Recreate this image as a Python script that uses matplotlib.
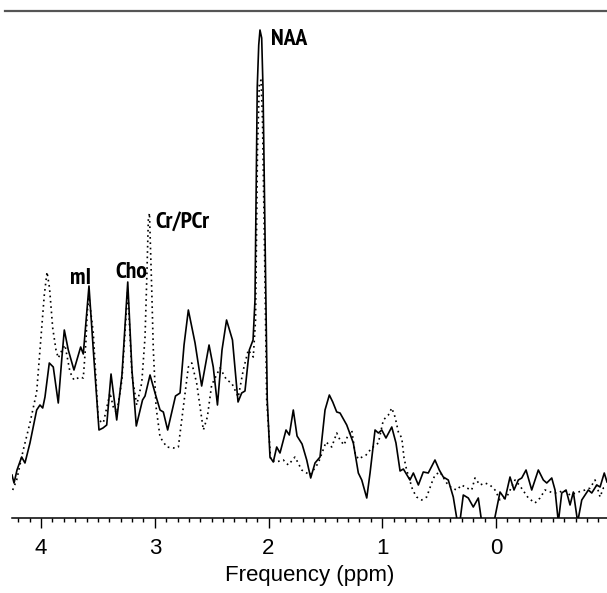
import matplotlib
matplotlib.use("Agg")
import matplotlib.pyplot as plt
from matplotlib import font_manager
from matplotlib.lines import Line2D
from matplotlib.ticker import MultipleLocator

# solid spectrum: chemical shift (ppm) and intensity (a.u.)
solid_ppm = [4.256, 4.238, 4.212, 4.171, 4.142, 4.098, 4.039, 4.010, 3.986, 3.966,
             3.928, 3.893, 3.849, 3.819, 3.796, 3.761, 3.711, 3.652, 3.629, 3.579,
             3.541, 3.491, 3.456, 3.423, 3.385, 3.335, 3.289, 3.238, 3.201, 3.163,
             3.108, 3.086, 3.042, 2.998, 2.954, 2.925, 2.887, 2.818, 2.778, 2.743,
             2.705, 2.646, 2.588, 2.523, 2.486, 2.449, 2.409, 2.369, 2.317, 2.268,
             2.236, 2.207, 2.169, 2.136, 2.119, 2.099, 2.086, 2.075, 2.060, 2.048,
             2.031, 2.011, 1.987, 1.958, 1.928, 1.899, 1.846, 1.817, 1.782, 1.749,
             1.705, 1.664, 1.629, 1.591, 1.547, 1.503, 1.465, 1.435, 1.400, 1.371,
             1.312, 1.254, 1.210, 1.180, 1.136, 1.107, 1.063, 1.034, 1.004, 0.967,
             0.916, 0.879, 0.843, 0.814, 0.756, 0.726, 0.682, 0.639, 0.595, 0.536,
             0.498, 0.463, 0.419, 0.375, 0.339, 0.316, 0.287, 0.243, 0.199, 0.155,
             0.125, 0.069, 0.017, -0.036, -0.080, -0.124, -0.159, -0.197, -0.227, -0.265,
             -0.315, -0.373, -0.417, -0.447, -0.491, -0.520, -0.549, -0.579, -0.617, -0.652,
             -0.681, -0.719, -0.755, -0.813, -0.843, -0.887, -0.916, -0.953, -0.977]
solid_int = [8.5, 6.9, 9.5, 12.1, 10.9, 14.9, 21.5, 22.5, 21.9, 24.1,
             30.9, 30.1, 22.9, 31.5, 37.5, 33.5, 29.5, 34.1, 32.7, 46.3,
             33.5, 17.5, 17.9, 18.5, 28.7, 19.5, 28.5, 47.1, 29.5, 18.3,
             23.5, 24.3, 28.5, 24.9, 21.5, 21.1, 17.5, 24.3, 24.9, 34.5,
             41.5, 34.9, 26.3, 34.5, 30.1, 22.5, 33.5, 39.5, 35.5, 23.1,
             24.9, 25.3, 33.5, 35.5, 43.5, 86.1, 94.5, 97.5, 95.9, 85.5,
             56.9, 23.5, 12.1, 11.1, 14.1, 12.9, 17.5, 16.5, 21.5, 16.3,
             14.7, 11.5, 7.9, 10.9, 12.1, 21.5, 24.5, 23.1, 21.1, 20.9,
             18.5, 14.9, 8.9, 7.5, 3.9, 8.9, 17.5, 16.9, 17.5, 15.9,
             18.1, 14.9, 9.3, 9.7, 7.5, 8.9, 6.5, 9.1, 8.9, 11.5,
             9.5, 8.1, 7.5, 4.1, -0.9, -0.7, 4.5, 3.9, 2.1, 3.9,
             -0.9, -1.7, -0.9, 5.1, 3.7, 8.1, 5.5, 7.5, 7.9, 9.5,
             5.5, 9.5, 7.5, 6.9, 7.9, 5.5, -0.9, 4.9, 5.5, 2.5,
             5.1, -0.9, 3.5, 5.5, 4.9, 6.5, 6.1, 8.9, 7.1]

# dotted spectrum
dot_ppm = [4.250, 4.215, 4.157, 4.098, 4.039, 4.010, 3.972, 3.948, 3.926, 3.898,
           3.869, 3.849, 3.816, 3.790, 3.746, 3.711, 3.658, 3.629, 3.605, 3.594,
           3.579, 3.541, 3.497, 3.453, 3.394, 3.365, 3.335, 3.289, 3.238, 3.201,
           3.159, 3.115, 3.086, 3.071, 3.057, 3.047, 3.027, 3.013, 2.989, 2.954,
           2.895, 2.837, 2.793, 2.749, 2.705, 2.675, 2.632, 2.602, 2.573, 2.538,
           2.500, 2.427, 2.368, 2.324, 2.266, 2.222, 2.178, 2.134, 2.114, 2.097,
           2.081, 2.066, 2.053, 2.035, 2.016, 1.981, 1.934, 1.870, 1.826, 1.767,
           1.708, 1.635, 1.562, 1.494, 1.444, 1.400, 1.371, 1.336, 1.307, 1.268,
           1.239, 1.210, 1.142, 1.092, 1.034, 0.990, 0.946, 0.916, 0.887, 0.858,
           0.828, 0.808, 0.785, 0.732, 0.697, 0.653, 0.609, 0.565, 0.536, 0.492,
           0.433, 0.389, 0.345, 0.301, 0.257, 0.213, 0.184, 0.140, 0.096, 0.052,
           0.008, -0.036, -0.095, -0.168, -0.212, -0.285, -0.344, -0.388, -0.432, -0.505,
           -0.549, -0.593, -0.652, -0.725, -0.784, -0.828, -0.872, -0.916, -0.945, -0.977]
dot_int = [5.5, 7.5, 13.5, 18.9, 25.1, 33.5, 44.5, 49.1, 45.9, 37.9,
           33.5, 31.9, 33.5, 34.5, 29.1, 27.5, 28.1, 27.9, 35.5, 41.1,
           44.1, 36.9, 19.5, 18.9, 24.9, 22.1, 20.9, 27.5, 45.5, 28.5,
           22.5, 26.9, 36.1, 47.5, 59.5, 60.9, 45.5, 33.5, 22.1, 16.1,
           14.1, 13.9, 14.1, 22.1, 30.1, 30.9, 26.9, 22.1, 17.5, 20.1,
           26.5, 29.9, 27.5, 26.9, 24.1, 29.5, 33.5, 32.1, 39.5, 73.5,
           86.5, 87.5, 79.5, 53.5, 23.5, 11.5, 11.1, 11.5, 10.5, 12.1,
           9.5, 8.5, 10.9, 15.1, 14.1, 16.9, 15.5, 14.5, 16.1, 17.5,
           12.9, 11.7, 12.5, 13.9, 14.9, 19.5, 20.5, 21.9, 20.1, 17.1,
           15.9, 11.9, 9.5, 5.5, 4.1, 3.5, 4.1, 6.9, 8.5, 9.1,
           6.9, 5.9, 5.5, 6.5, 5.9, 5.5, 7.9, 6.5, 6.9, 6.5,
           5.5, 3.5, 4.1, 7.5, 6.3, 3.9, 2.9, 3.9, 5.5, 4.9,
           4.9, 5.5, 4.5, 5.1, 5.5, 5.9, 7.5, 4.1, 5.9, 6.1]

# metabolite labels: text, ppm of left edge, intensity of baseline
peak_names = ["NAA", "Cr/PCr", "Cho", "mI"]
peak_ppm = [1.981, 2.994, 3.350, 3.746]
peak_int = [94.5, 57.9, 47.9, 46.7]

# pick a narrow bold face for the peak labels if one is installed
narrow = None
for f in font_manager.fontManager.ttflist:
    if ("Narrow" in f.name or "Condensed" in f.name) and f.weight in (700, "bold"):
        narrow = f.fname
        if "Narrow" in f.name:
            break
label_font = dict(fname=narrow) if narrow else dict(family="DejaVu Sans", weight="bold")
label_prop = font_manager.FontProperties(size=17, **label_font)

fig = plt.figure(figsize=(6.07, 5.93), dpi=100)
ax = fig.add_axes([12 / 607, 75.5 / 593, 595 / 607, 507 / 593])

ax.plot(solid_ppm, solid_int, color="black", lw=1.2, solid_joinstyle="round")
ax.plot(dot_ppm, dot_int, color="black", lw=1.2, linestyle=(0, (1, 2.2)))

for name, px, py in zip(peak_names, peak_ppm, peak_int):
    ax.text(px, py, name, fontproperties=label_prop, ha="left", va="baseline")

ax.set_xlim(4.256, -0.977)
ax.set_ylim(0, 101.4)

for s in ["left", "right", "top"]:
    ax.spines[s].set_visible(False)
ax.spines["bottom"].set_linewidth(1.1)
ax.set_yticks([])
ax.xaxis.set_major_locator(MultipleLocator(1))
ax.xaxis.set_minor_locator(MultipleLocator(0.1))
ax.tick_params(axis="x", which="major", direction="out", length=7, width=1.0,
               pad=8, labelsize=16)
ax.tick_params(axis="x", which="minor", direction="out", length=3, width=1.0)
for lab in ax.get_xticklabels():
    lab.set_family("Liberation Sans")
ax.set_xlabel("Frequency (ppm)", family="Liberation Sans", fontsize=16, labelpad=4)

# thin rule across the top of the figure
fig.add_artist(Line2D([5 / 607, 1.0], [582.5 / 593, 582.5 / 593],
                      transform=fig.transFigure, color="#555555", lw=1.6))

fig.savefig("out.png", dpi=100)
